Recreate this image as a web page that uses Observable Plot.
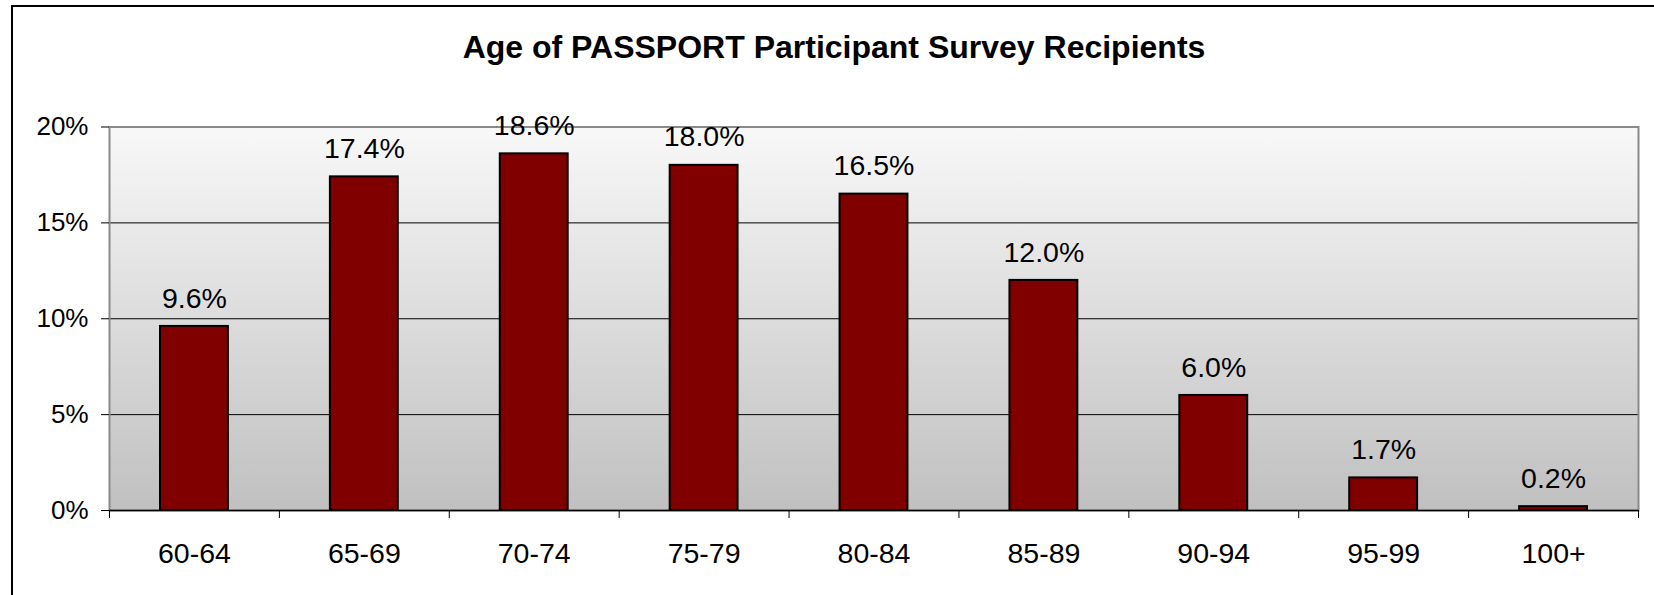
<!DOCTYPE html>
<html>
<head>
<meta charset="utf-8">
<script src="https://cdn.jsdelivr.net/npm/d3@7"></script>
<script src="https://cdn.jsdelivr.net/npm/@observablehq/plot@0.6"></script>
<style>
  html, body { margin: 0; padding: 0; background: white; }
  #wrap { position: relative; width: 1654px; height: 595px; overflow: hidden; background: white; font-family: "Liberation Sans", Arial, sans-serif; }
  #frame { position: absolute; left: 11px; top: 5px; width: 1700px; height: 700px; border-left: 2px solid #000; border-top: 2px solid #000; box-sizing: border-box; pointer-events: none; }
  #title { position: absolute; left: 0; top: 31px; width: 1668px; text-align: center; font-weight: bold; font-size: 32px; line-height: 32px; color: #000; }
  #chart { position: absolute; left: 0; top: 80px; }
</style>
</head>
<body>
<div id="wrap">
  <div id="title">Age of PASSPORT Participant Survey Recipients</div>
  <div id="chart"></div>
  <div id="frame"></div>
</div>
<script>
const categories = ["60-64", "65-69", "70-74", "75-79", "80-84", "85-89", "90-94", "95-99", "100+"];
const values = [9.6, 17.4, 18.6, 18.0, 16.5, 12.0, 6.0, 1.7, 0.2];
const yTicks = [0, 5, 10, 15, 20];
const gridValues = [5, 10, 15];

const data = categories.map((c, i) => ({i, cat: c, v: values[i], label: values[i].toFixed(1) + "%"}));

const gradientDefs = () => {
  const ns = "http://www.w3.org/2000/svg";
  const defs = document.createElementNS(ns, "defs");
  const lg = document.createElementNS(ns, "linearGradient");
  lg.setAttribute("id", "bgGrad");
  lg.setAttribute("x1", "0"); lg.setAttribute("y1", "0");
  lg.setAttribute("x2", "0"); lg.setAttribute("y2", "1");
  [["0", "#f8f8f8"], ["1", "#c0c0c0"]].forEach(([o, c]) => {
    const s = document.createElementNS(ns, "stop");
    s.setAttribute("offset", o);
    s.setAttribute("stop-color", c);
    lg.appendChild(s);
  });
  defs.appendChild(lg);
  return defs;
};

const chart = Plot.plot({
  width: 1654,
  height: 515,
  marginLeft: 109,
  marginRight: 16,
  marginTop: 46.5,
  marginBottom: 85,
  style: {fontFamily: '"Liberation Sans", Arial, sans-serif', color: "black", background: "transparent", overflow: "visible"},
  x: {type: "linear", domain: [0, categories.length]},
  y: {domain: [0, 20]},
  marks: [
    gradientDefs,
    Plot.frame({fill: "url(#bgGrad)"}),
    Plot.ruleY(gridValues, {stroke: "black", strokeWidth: 1}),
    Plot.frame({stroke: "#8a8a8a", strokeWidth: 2}),
    Plot.rectY(data, {x1: "i", x2: d => d.i + 1, y: "v", insetLeft: 51, insetRight: 51, fill: "#800000", stroke: "black", strokeWidth: 2}),
    Plot.ruleY([0], {stroke: "black", strokeWidth: 1.5}),
    Plot.axisY({ticks: yTicks, tickFormat: d => d + "%", tickSize: 8, tickPadding: 13, fontSize: 26, label: null}),
    Plot.axisX({ticks: d3.range(0, categories.length + 1), tickSize: 8, tickFormat: () => "", label: null}),
    Plot.axisX({ticks: categories.map((_, i) => i + 0.5), tickSize: 0, tickPadding: 32, tickFormat: t => categories[Math.floor(t)], fontSize: 28.5, label: null}),
    Plot.text(data, {x: d => d.i + 0.5, y: "v", text: "label", dy: -28, lineAnchor: "middle", fontSize: 28.5, fill: "black"})
  ]
});
document.getElementById("chart").appendChild(chart);
</script>
</body>
</html>
